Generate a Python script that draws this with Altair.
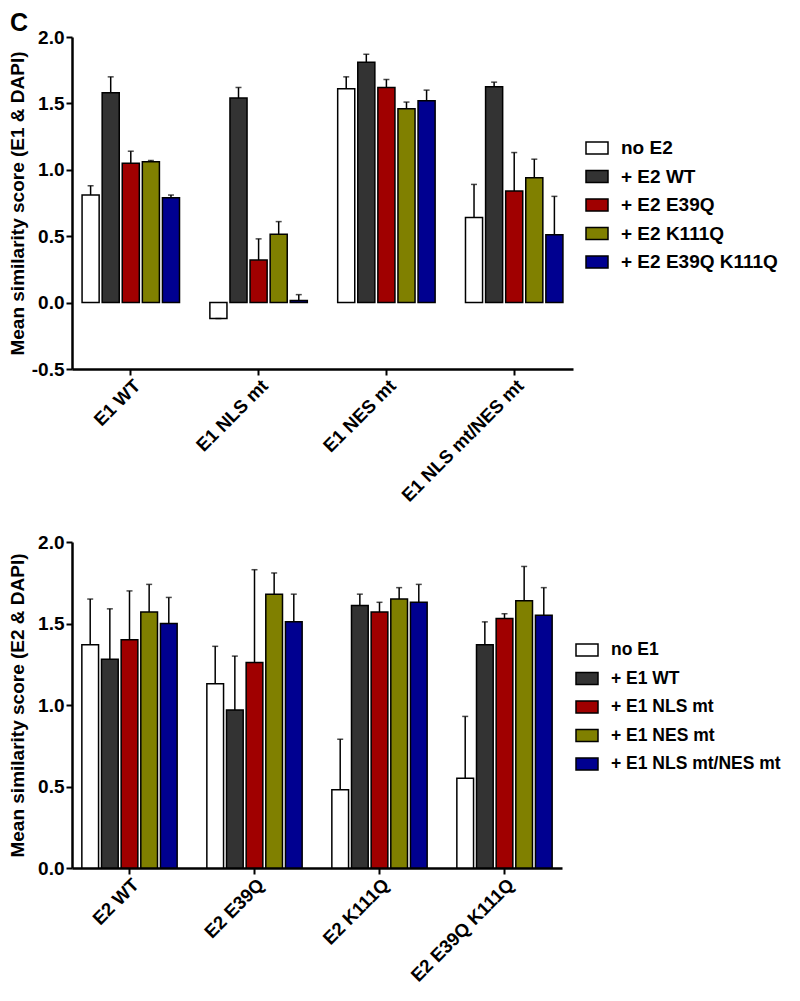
import altair as alt
import pandas as pd

FONT = "Liberation Sans"

# ---------- top panel data ----------
top_cats = ["E1 WT", "E1 NLS mt", "E1 NES mt", "E1 NLS mt/NES mt"]
top_series = ["no E2", "+ E2 WT", "+ E2 E39Q", "+ E2 K111Q", "+ E2 E39Q K111Q"]
top_mean = {
    "no E2":           [0.81, -0.12, 1.61, 0.64],
    "+ E2 WT":         [1.58, 1.54, 1.81, 1.625],
    "+ E2 E39Q":       [1.05, 0.32, 1.62, 0.84],
    "+ E2 K111Q":      [1.06, 0.515, 1.46, 0.94],
    "+ E2 E39Q K111Q": [0.79, 0.015, 1.52, 0.51],
}
top_err = {
    "no E2":           [0.07, 0.0, 0.09, 0.25],
    "+ E2 WT":         [0.12, 0.08, 0.06, 0.035],
    "+ E2 E39Q":       [0.09, 0.16, 0.06, 0.29],
    "+ E2 K111Q":      [0.01, 0.095, 0.05, 0.14],
    "+ E2 E39Q K111Q": [0.02, 0.045, 0.08, 0.29],
}

# ---------- bottom panel data ----------
bot_cats = ["E2 WT", "E2 E39Q", "E2 K111Q", "E2 E39Q K111Q"]
bot_series = ["no E1", "+ E1 WT", "+ E1 NLS mt", "+ E1 NES mt", "+ E1 NLS mt/NES mt"]
bot_mean = {
    "no E1":              [1.37, 1.13, 0.48, 0.55],
    "+ E1 WT":            [1.28, 0.97, 1.61, 1.37],
    "+ E1 NLS mt":        [1.40, 1.26, 1.57, 1.53],
    "+ E1 NES mt":        [1.57, 1.68, 1.65, 1.64],
    "+ E1 NLS mt/NES mt": [1.50, 1.51, 1.63, 1.55],
}
bot_err = {
    "no E1":              [0.28, 0.23, 0.31, 0.38],
    "+ E1 WT":            [0.31, 0.33, 0.07, 0.14],
    "+ E1 NLS mt":        [0.30, 0.57, 0.06, 0.03],
    "+ E1 NES mt":        [0.17, 0.13, 0.07, 0.21],
    "+ E1 NLS mt/NES mt": [0.16, 0.17, 0.11, 0.17],
}

colors = ["#ffffff", "#333333", "#a00000", "#808000", "#000090"]
panel_label = ["C"]


def make_df(cats, series, mean, err):
    rows = []
    for s in series:
        for i, c in enumerate(cats):
            m = mean[s][i]
            e = err[s][i]
            top = m + e if m >= 0 else m - e
            rows.append({"cat": c, "series": s, "mean": m, "top": top})
    return pd.DataFrame(rows)


def panel(df, cats, series, ytitle, ydomain, yticks, width, height, lx, ly,
          title_pad, leg_font, letter=None):
    xenc = alt.X("cat:N", sort=cats, title=None,
                 scale=alt.Scale(paddingInner=0.214, paddingOuter=0.067),
                 axis=alt.Axis(labelAngle=-45, domainWidth=2.5, domainColor="black",
                               tickColor="black", tickWidth=2, tickSize=6,
                               labelPadding=1, labelFontSize=18.5))
    xoff = alt.XOffset("series:N", sort=series,
                       scale=alt.Scale(paddingInner=0.15, paddingOuter=0.075))
    yaxis = alt.Axis(values=yticks, format=".1f", title=ytitle, grid=False,
                     labelExpr="replace(datum.label, '\u2212', '-')",
                     domainWidth=2.5, domainColor="black", tickColor="black",
                     tickWidth=2, tickSize=6, labelPadding=2,
                     titlePadding=title_pad)
    yscale = alt.Scale(domain=ydomain, nice=False)
    base = alt.Chart(df).encode(x=xenc, xOffset=xoff)
    bars = base.mark_bar(stroke="black", strokeWidth=1.5).encode(
        y=alt.Y("mean:Q", scale=yscale, axis=yaxis),
        color=alt.Color("series:N", sort=series,
                        scale=alt.Scale(domain=series, range=colors),
                        legend=alt.Legend(title=None, orient="none",
                                          legendX=lx, legendY=ly,
                                          symbolType="M-1,-0.55L1,-0.55L1,0.55L-1,0.55Z",
                                          symbolSize=484,
                                          symbolStrokeColor="black",
                                          symbolStrokeWidth=1.5,
                                          symbolOpacity=1,
                                          labelFont=FONT, labelFontSize=leg_font,
                                          labelFontWeight="bold", labelColor="black",
                                          labelOffset=12, rowPadding=6.5,
                                          labelLimit=300)),
    )
    rules = base.mark_rule(color="black", strokeWidth=1.5).encode(
        y=alt.Y("mean:Q"), y2="top:Q")
    caps = base.mark_tick(color="black", thickness=1.5, size=6).encode(
        y=alt.Y("top:Q"))
    layers = [rules, bars, caps]
    if letter is not None:
        txt = alt.Chart(pd.DataFrame({"t": letter})).mark_text(
            font=FONT, fontSize=25, fontWeight="bold", color="black",
            align="left", baseline="top"
        ).encode(text="t:N", x=alt.value(-62), y=alt.value(-26))
        layers.append(txt)
    return alt.layer(*layers).properties(width=width, height=height)


top = panel(make_df(top_cats, top_series, top_mean, top_err), top_cats, top_series,
            "Mean similarity score (E1 & DAPI)", [-0.5, 2.0],
            [-0.5, 0.0, 0.5, 1.0, 1.5, 2.0], 501, 332, 513, 99, 4, 19, panel_label)
bot = panel(make_df(bot_cats, bot_series, bot_mean, bot_err), bot_cats, bot_series,
            "Mean similarity score (E2 & DAPI)", [0.0, 2.0],
            [0.0, 0.5, 1.0, 1.5, 2.0], 490, 326, 503, 96, 10, 17.5)

chart = alt.vconcat(top, bot, spacing=28).resolve_scale(
    x="independent", y="independent", color="independent", xOffset="independent"
).properties(
    padding={"left": 0, "top": 3, "right": 0, "bottom": 0}
).configure_view(stroke=None).configure_axis(
    labelFont=FONT, labelFontSize=19, labelFontWeight="bold", labelColor="black",
    titleFont=FONT, titleFontSize=19, titleFontWeight="bold", titleColor="black",
)

chart.save("out.html", embed_options={"renderer": "svg", "actions": False})
